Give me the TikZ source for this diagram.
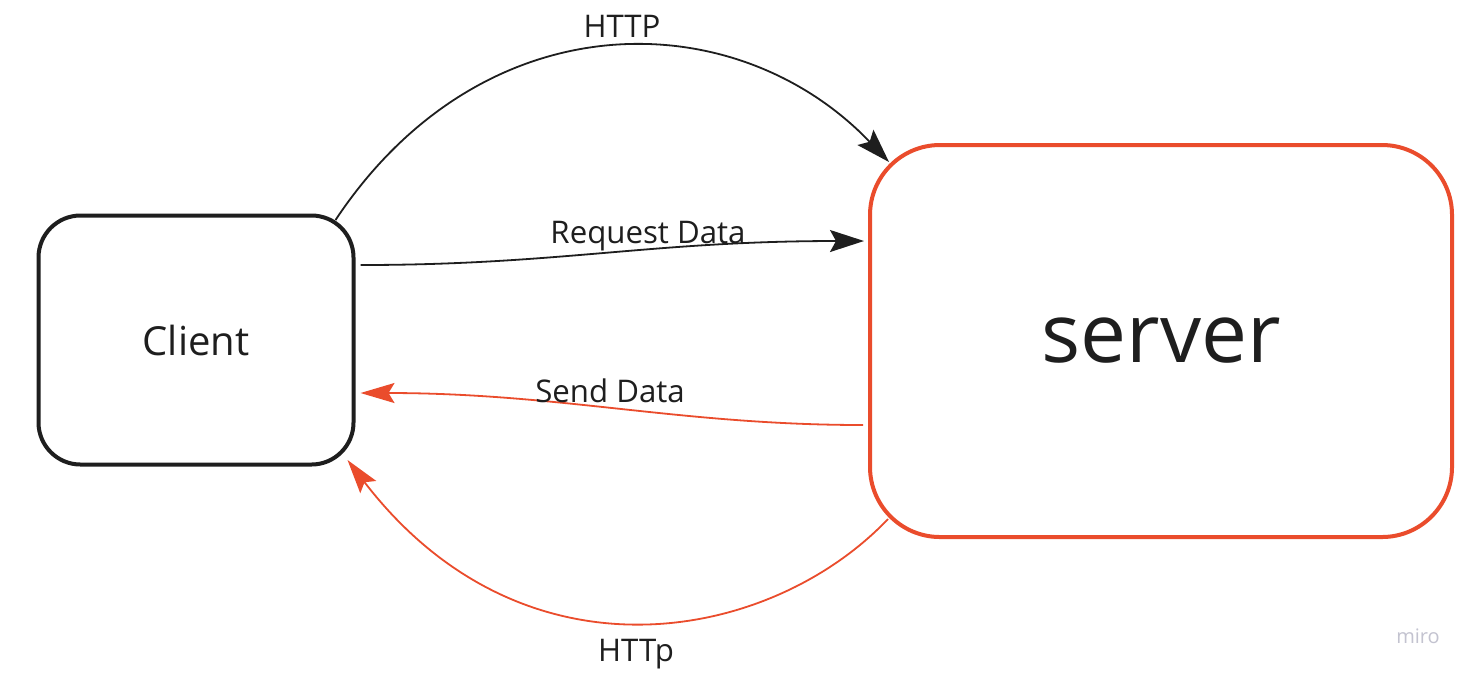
\documentclass[tikz,border=0pt]{standalone}
\usepackage{fontspec}
\setmainfont{Open Sans}
\usetikzlibrary{arrows.meta}
\definecolor{miroRed}{RGB}{234,76,44}
\definecolor{ink}{RGB}{30,30,30}
\definecolor{wm}{RGB}{195,195,208}
\tikzset{
  box/.style={draw, rectangle, line width=2pt, text=ink, inner sep=0pt},
  lbl/.style={text=ink, font=\fontsize{15.6}{18}\selectfont, inner sep=0pt},
  blackarrow/.style={draw=ink, line width=0.9pt, -{Stealth[length=17pt,width=11pt,inset=3pt]}},
  redarrow/.style={draw=miroRed, line width=0.9pt, -{Stealth[length=17pt,width=10pt,inset=3pt]}}
}
\begin{document}
\begin{tikzpicture}[x=0.5pt,y=-0.5pt]
\useasboundingbox (0,0) rectangle (1475,677);
\fill[white] (0,0) rectangle (1475,677);
\node[box, draw=ink, minimum width=157.5pt, minimum height=124.5pt, rounded corners=21pt,
      font=\fontsize{20}{24}\selectfont, text depth=0pt] (client) at (196,340) {Client};
\node[box, draw=miroRed, minimum width=291pt, minimum height=196pt, rounded corners=35pt,
      font=\fontsize{41}{48}\selectfont] (server) at (1161,341) {server};
% connector end points on the boxes
\coordinate (a1) at ([xshift=-10pt,yshift=60pt]client.east);
\coordinate (b1) at ([xshift=10.5pt,yshift=89.5pt]server.west);
\coordinate (a2) at ([xshift=2.5pt,yshift=37.5pt]client.east);
\coordinate (b2) at ([xshift=-2pt,yshift=50pt]server.west);
\coordinate (a3) at ([xshift=2.5pt,yshift=-26.5pt]client.east);
\coordinate (b3) at ([xshift=-2.5pt,yshift=-42pt]server.west);
\coordinate (a4) at ([xshift=-4pt,yshift=-60pt]client.east);
\coordinate (b4) at ([xshift=10pt,yshift=-89pt]server.west);
% HTTP arc
\draw[blackarrow] (a1) .. controls (483,-2) and (736,2) .. (b1);
% Request Data
\draw[blackarrow] (a2) .. controls (560,265) and (650,241) .. (b2);
% Send Data
\draw[redarrow] (b3) .. controls (680,425) and (560,393) .. (a3);
% HTTp arc
\draw[redarrow] (b4) .. controls (771,642) and (524,690) .. (a4);
\node[lbl] (l1) at (622,26) {HTTP};
\node[lbl] (l2) at (648,236) {Request Data};
\node[lbl] (l3) at (610,391) {Send Data};
\node[lbl] (l4) at (636,654) {HTTp};
\node[text=wm, font=\fontsize{10}{12}\selectfont, inner sep=0pt] (wmark) at (1418,636) {miro};
\end{tikzpicture}
\end{document}
